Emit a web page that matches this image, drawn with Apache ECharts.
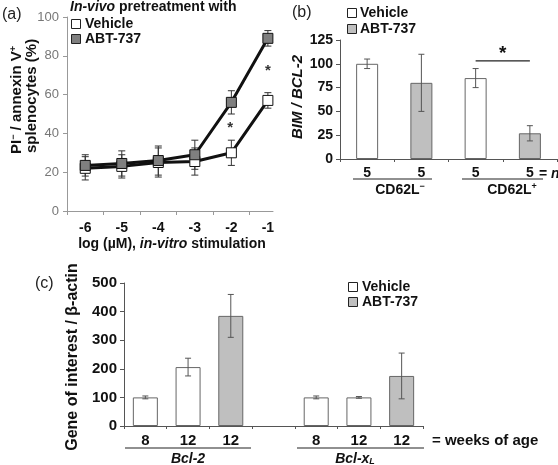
<!DOCTYPE html>
<html><head><meta charset="utf-8">
<script src="https://cdn.jsdelivr.net/npm/echarts@6/dist/echarts.min.js"></script>
<style>html,body{margin:0;padding:0;background:#fff}#c{width:558px;height:465px}</style>
</head><body><div id="c"></div>
<script>
// ---------- Panel (a) ----------
const aDoses = [-6, -5, -4, -3, -2, -1];
const aVehicle = [22, 23, 25, 25.5, 30, 57];
const aVehicleErr = [6, 6, 7.5, 7, 6.5, 4];
const aABT = [23.5, 24.5, 26, 29, 56, 89];
const aABTErr = [5.5, 6.5, 7.5, 7.5, 6, 4];
const aStars = [[-2.03, 43], [-1, 72]];
// ---------- Panel (b) ----------
const bN = ['5', '5', '5', '5'];
const bGroups = ['CD62L', 'CD62L'];
const bVehicle = [100, '-', 85, '-'];
const bVehicleErr = [5, '-', 10, '-'];
const bABT = ['-', 80, '-', 27];
const bABTErr = ['-', 30, '-', 8];
const bSig = [[2.04, 3.15, 103]];
// ---------- Panel (c) ----------
const cWeeks = ['8', '12', '12', '', '8', '12', '12'];
const cGenes = ['Bcl-2', 'Bcl-x'];
const cVehicle = [100, 206, '-', '-', 100, 100, '-'];
const cVehicleErr = [5, 31, '-', '-', 5, 3, '-'];
const cABT = ['-', '-', 385, '-', '-', '-', 175];
const cABTErr = ['-', '-', 75, '-', '-', '-', 80];

const F = '"Liberation Sans", Arial, sans-serif';

function errData(xs, vals, errs) {
  const out = [];
  vals.forEach((v, i) => {
    if (typeof v === 'number' && typeof errs[i] === 'number') out.push([xs[i], v - errs[i], v + errs[i]]);
  });
  return out;
}
function errRender(color, hw) {
  return function (params, api) {
    const x = api.value(0), lo = api.value(1), hi = api.value(2);
    const p1 = api.coord([x, hi]), p2 = api.coord([x, lo]);
    const st = { stroke: color, lineWidth: 1 };
    return { type: 'group', children: [
      { type: 'line', shape: { x1: p1[0], y1: p1[1], x2: p2[0], y2: p2[1] }, style: st },
      { type: 'line', shape: { x1: p1[0] - hw, y1: p1[1], x2: p1[0] + hw, y2: p1[1] }, style: st },
      { type: 'line', shape: { x1: p2[0] - hw, y1: p2[1], x2: p2[0] + hw, y2: p2[1] }, style: st }
    ]};
  };
}
function starRender(size, color) {
  return function (params, api) {
    const p = api.coord([api.value(0), api.value(1)]);
    return { type: 'text', x: p[0], y: p[1], style: { text: '*', fontSize: size, fontWeight: 'bold', fill: color, fontFamily: F, align: 'center', verticalAlign: 'middle' } };
  };
}
function sigRender(params, api) {
  const p1 = api.coord([api.value(0), api.value(2)]);
  const p2 = api.coord([api.value(1), api.value(2)]);
  return { type: 'group', children: [
    { type: 'line', shape: { x1: p1[0], y1: p1[1], x2: p2[0], y2: p2[1] }, style: { stroke: '#222', lineWidth: 1.2 } },
    { type: 'text', x: (p1[0] + p2[0]) / 2, y: p1[1] - 7, style: { text: '*', fontSize: 19, fontWeight: 'bold', fill: '#111', fontFamily: F, align: 'center', verticalAlign: 'middle' } }
  ]};
}

const idx = (arr) => arr.map((_, i) => i);
const supRich = { fontSize: 9, fontWeight: 'bold', fontFamily: F, fill: '#111', verticalAlign: 'top', padding: [0, 0, 6, 0] };

const boldTxt = (x, y, text, size, extra) => ({
  type: 'text', x: x, y: y,
  style: Object.assign({ text: text, fontSize: size, fontWeight: 'bold', fontFamily: F, fill: '#111', align: 'left', verticalAlign: 'middle' }, extra || {})
});
const sq = (x, y, fill) => ({ type: 'rect', shape: { x: x, y: y, width: 9, height: 9 }, style: { fill: fill, stroke: '#222', lineWidth: 1 } });
const hline = (x1, x2, y) => ({ type: 'line', shape: { x1: x1, y1: y, x2: x2, y2: y }, style: { stroke: '#222', lineWidth: 1.2 } });

const option = {
  backgroundColor: '#fff',
  animation: false,
  textStyle: { fontFamily: F },
  grid: [
    { left: 67, top: 17, width: 206, height: 194 },
    { left: 340, top: 40, width: 217, height: 119 },
    { left: 124, top: 283, width: 299, height: 143 }
  ],
  xAxis: [
    { type: 'value', gridIndex: 0, min: -6.5, max: -0.86,
      axisLine: { lineStyle: { color: '#999' } },
      axisTick: { show: true, customValues: [-6.5, -5.5, -4.5, -3.5, -2.5, -1.5], length: 4, lineStyle: { color: '#999' } },
      axisLabel: { customValues: aDoses, fontSize: 14, fontWeight: 'bold', color: '#111', margin: 10, fontFamily: F },
      splitLine: { show: false } },
    { type: 'category', gridIndex: 1, data: bN,
      axisLine: { lineStyle: { color: '#555' } },
      axisTick: { show: true, length: 3, lineStyle: { color: '#555' } },
      axisLabel: { fontSize: 14, fontWeight: 'bold', color: '#111', margin: 7, fontFamily: F } },
    { type: 'category', gridIndex: 2, data: cWeeks,
      axisLine: { lineStyle: { color: '#555' } },
      axisTick: { show: true, length: 3, lineStyle: { color: '#555' } },
      axisLabel: { fontSize: 15, fontWeight: 'bold', color: '#111', margin: 7, fontFamily: F } }
  ],
  yAxis: [
    { type: 'value', gridIndex: 0, min: 0, max: 100, interval: 20,
      axisLine: { show: true, lineStyle: { color: '#999' } },
      axisTick: { show: true, length: 4, lineStyle: { color: '#999' } },
      axisLabel: { fontSize: 13, color: '#777', margin: 8, fontFamily: F },
      splitLine: { show: false } },
    { type: 'value', gridIndex: 1, min: 0, max: 125, interval: 25,
      axisLine: { show: true, lineStyle: { color: '#555' } },
      axisTick: { show: true, length: 4, lineStyle: { color: '#555' } },
      axisLabel: { fontSize: 14, fontWeight: 'bold', color: '#111', margin: 7, fontFamily: F },
      splitLine: { show: false } },
    { type: 'value', gridIndex: 2, min: 0, max: 500, interval: 100,
      axisLine: { show: true, lineStyle: { color: '#555' } },
      axisTick: { show: true, length: 4, lineStyle: { color: '#555' } },
      axisLabel: { fontSize: 15, fontWeight: 'bold', color: '#111', margin: 7, fontFamily: F },
      splitLine: { show: false } }
  ],
  series: [
    { type: 'custom', name: 'a-err-veh', xAxisIndex: 0, yAxisIndex: 0, z: 1,
      data: errData(aDoses, aVehicle, aVehicleErr), renderItem: errRender('#333', 3.5) },
    { type: 'custom', name: 'a-err-abt', xAxisIndex: 0, yAxisIndex: 0, z: 1,
      data: errData(aDoses, aABT, aABTErr), renderItem: errRender('#333', 3.5) },
    { type: 'line', name: 'Vehicle', xAxisIndex: 0, yAxisIndex: 0, z: 3,
      data: aDoses.map((d, i) => [d, aVehicle[i]]),
      symbol: 'rect', symbolSize: 10, showAllSymbol: true,
      lineStyle: { color: '#111', width: 3 },
      itemStyle: { color: '#fff', borderColor: '#111', borderWidth: 1 } },
    { type: 'line', name: 'ABT-737', xAxisIndex: 0, yAxisIndex: 0, z: 4,
      data: aDoses.map((d, i) => [d, aABT[i]]),
      symbol: 'rect', symbolSize: 10, showAllSymbol: true,
      lineStyle: { color: '#111', width: 3 },
      itemStyle: { color: '#7f7f7f', borderColor: '#111', borderWidth: 1 } },
    { type: 'custom', name: 'a-stars', xAxisIndex: 0, yAxisIndex: 0, z: 5,
      data: aStars, renderItem: starRender(15, '#333') },

    { type: 'bar', name: 'Vehicle', xAxisIndex: 1, yAxisIndex: 1, data: bVehicle,
      barWidth: 22, barGap: '-100%',
      itemStyle: { color: '#fff', borderColor: '#666', borderWidth: 1 } },
    { type: 'bar', name: 'ABT-737', xAxisIndex: 1, yAxisIndex: 1, data: bABT,
      barWidth: 22, barGap: '-100%',
      itemStyle: { color: '#bfbfbf', borderColor: '#666', borderWidth: 1 } },
    { type: 'custom', name: 'b-err', xAxisIndex: 1, yAxisIndex: 1, z: 5,
      data: errData(idx(bN), bVehicle, bVehicleErr).concat(errData(idx(bN), bABT, bABTErr)),
      renderItem: errRender('#555', 3) },
    { type: 'custom', name: 'b-sig', xAxisIndex: 1, yAxisIndex: 1, z: 5,
      data: bSig, renderItem: sigRender },

    { type: 'bar', name: 'Vehicle', xAxisIndex: 2, yAxisIndex: 2, data: cVehicle,
      barWidth: 25, barGap: '-100%',
      itemStyle: { color: '#fff', borderColor: '#666', borderWidth: 1 } },
    { type: 'bar', name: 'ABT-737', xAxisIndex: 2, yAxisIndex: 2, data: cABT,
      barWidth: 25, barGap: '-100%',
      itemStyle: { color: '#bfbfbf', borderColor: '#666', borderWidth: 1 } },
    { type: 'custom', name: 'c-err', xAxisIndex: 2, yAxisIndex: 2, z: 5,
      data: errData(idx(cWeeks), cVehicle, cVehicleErr).concat(errData(idx(cWeeks), cABT, cABTErr)),
      renderItem: errRender('#555', 3) }
  ],
  graphic: [
    // panel labels
    { type: 'text', x: 2, y: 15, style: { text: '(a)', fontSize: 16, fontFamily: F, fill: '#222', verticalAlign: 'middle' } },
    { type: 'text', x: 292, y: 13, style: { text: '(b)', fontSize: 16, fontFamily: F, fill: '#222', verticalAlign: 'middle' } },
    { type: 'text', x: 35, y: 284, style: { text: '(c)', fontSize: 16, fontFamily: F, fill: '#222', verticalAlign: 'middle' } },
    // (a) y title
    { type: 'text', x: 17, y: 154, rotation: Math.PI / 2,
      style: { text: 'PI{sup|−} / annexin V{sup|+}', fontSize: 15, fontWeight: 'bold', fontFamily: F, fill: '#111', align: 'left', verticalAlign: 'middle', rich: { sup: supRich } } },
    { type: 'text', x: 32, y: 153, rotation: Math.PI / 2,
      style: { text: 'splenocytes (%)', fontSize: 15, fontWeight: 'bold', fontFamily: F, fill: '#111', align: 'left', verticalAlign: 'middle' } },
    // (a) x title
    { type: 'text', x: 172, y: 244,
      style: { text: 'log (µM), {i|in-vitro} stimulation', fontSize: 14, fontWeight: 'bold', fontFamily: F, fill: '#111', align: 'center', verticalAlign: 'middle',
        rich: { i: { fontSize: 14, fontWeight: 'bold', fontStyle: 'italic', fontFamily: F, fill: '#111' } } } },
    // (a) legend
    boldTxt(70, 7, '{i|In-vivo} pretreatment with', 14, { rich: { i: { fontSize: 14, fontWeight: 'bold', fontStyle: 'italic', fontFamily: F, fill: '#111' } } }),
    sq(71.5, 19.5, '#fff'), boldTxt(85, 24, 'Vehicle', 14),
    sq(71.5, 34.5, '#7f7f7f'), boldTxt(85, 39, 'ABT-737', 14),
    // (b) y title
    { type: 'text', x: 298, y: 97, rotation: Math.PI / 2,
      style: { text: 'BIM / BCL-2', fontSize: 15, fontWeight: 'bold', fontStyle: 'italic', fontFamily: F, fill: '#111', align: 'center', verticalAlign: 'middle' } },
    // (b) legend
    sq(347.5, 8.5, '#fff'), boldTxt(360, 13, 'Vehicle', 14),
    sq(347.5, 24.5, '#bfbfbf'), boldTxt(360, 29, 'ABT-737', 14),
    // (b) groups
    hline(353, 432, 179), hline(462, 543, 179),
    { type: 'text', x: 400, y: 190, style: { text: bGroups[0] + '{sup|−}', fontSize: 14, fontWeight: 'bold', fontFamily: F, fill: '#111', align: 'center', verticalAlign: 'middle', rich: { sup: supRich } } },
    { type: 'text', x: 512, y: 190, style: { text: bGroups[1] + '{sup|+}', fontSize: 14, fontWeight: 'bold', fontFamily: F, fill: '#111', align: 'center', verticalAlign: 'middle', rich: { sup: supRich } } },
    boldTxt(539, 174, '= {i|n}', 14, { rich: { i: { fontSize: 14, fontWeight: 'bold', fontStyle: 'italic', fontFamily: F, fill: '#111' } } }),
    // (c) y title
    { type: 'text', x: 73, y: 357, rotation: Math.PI / 2,
      style: { text: 'Gene of interest / β-actin', fontSize: 16, fontWeight: 'bold', fontFamily: F, fill: '#111', align: 'center', verticalAlign: 'middle' } },
    // (c) legend
    sq(348.5, 282.5, '#fff'), boldTxt(362, 287, 'Vehicle', 14),
    sq(348.5, 297.5, '#bfbfbf'), boldTxt(362, 302, 'ABT-737', 14),
    // (c) groups
    hline(125, 251, 448), hline(297, 424, 448),
    { type: 'text', x: 188, y: 459, style: { text: cGenes[0], fontSize: 14, fontWeight: 'bold', fontStyle: 'italic', fontFamily: F, fill: '#111', align: 'center', verticalAlign: 'middle' } },
    { type: 'text', x: 355, y: 459, style: { text: cGenes[1] + '{sub|L}', fontSize: 14, fontWeight: 'bold', fontStyle: 'italic', fontFamily: F, fill: '#111', align: 'center', verticalAlign: 'middle',
        rich: { sub: { fontSize: 9, fontWeight: 'bold', fontStyle: 'italic', fontFamily: F, fill: '#111', verticalAlign: 'bottom', padding: [6, 0, 0, 0] } } } },
    boldTxt(432, 441, '= weeks of age', 15)
  ]
};
const chart = echarts.init(document.getElementById('c'));
chart.setOption(option);
</script>
</body></html>
